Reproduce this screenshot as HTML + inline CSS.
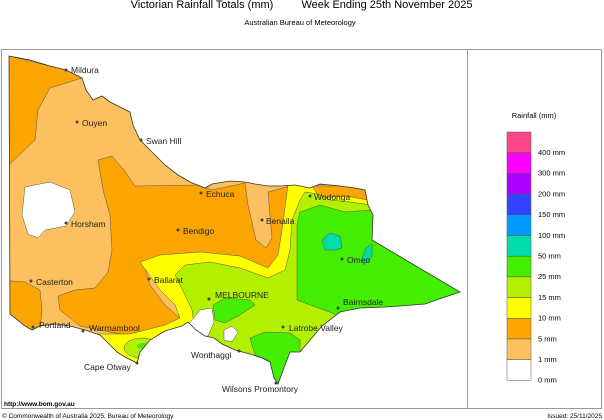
<!DOCTYPE html>
<html><head><meta charset="utf-8"><style>
body{margin:0;width:604px;height:420px;background:#fff;overflow:hidden;font-family:"Liberation Sans",sans-serif}
svg{display:block}
.lbl{font-size:8.5px;fill:#222}
</style></head><body>
<svg width="604" height="420">
<text x="202" y="8" text-anchor="middle" font-size="11">Victorian Rainfall Totals (mm)</text>
<text x="387" y="8" text-anchor="middle" font-size="11">Week Ending 25th November 2025</text>
<text x="300" y="25" text-anchor="middle" font-size="7.5">Australian Bureau of Meteorology</text>
<rect x="1.5" y="49.5" width="600" height="359" fill="none" stroke="#999"/>
<line x1="467.5" y1="49" x2="467.5" y2="409" stroke="#999"/>
<defs><clipPath id="vic"><path id="vicp" d="M9,56 L30,60 L50,66 L66,70 L82,78 L86,90 L93,100 L102,96 L110,102 L122,108 L130,112 L133,125 L140,140 L150,150 L165,165 L178,175 L190,182 L205,188 L212,184 L230,181 L245,182 L255,184 L268,186 L280,186 L295,185 L310,188 L320,184 L340,186 L355,188 L365,190 L368,205 L373,215 L372,240 L460,292 L445,297 L425,304 L400,306 L385,307 L360,308 L340,312 L322,326 L300,352 L290,352 L285,365 L278,384 L274,378 L270,362 L262,358 L250,354 L235,350 L222,344 L214,338 L205,336 L196,330 L188,322 L182,326 L175,328 L165,331 L150,340 L140,352 L137,363 L125,357 L117,352 L110,345 L100,335 L85,330 L70,326 L55,324 L40,326 L32,330 L25,326 L10,314 Z"/></clipPath></defs>
<g clip-path="url(#vic)">
<rect x="0" y="40" width="470" height="370" fill="#FDC05E"/>
<path d="M9,56 L66,70 L82,78 L50,88 L38,110 L35,140 L9,165 Z" fill="#FCA400" stroke="#555" stroke-width=".5"/>
<path d="M25,187 L50,182 L70,190 L75,212 L66,226 L45,230 L38,238 L28,234 L22,215 Z" fill="#fff" stroke="#555" stroke-width=".5"/>
<path d="M98,160 L112,156 L124,170 L135,186 L200,185 L212,190 L245,183 L248,205 L256,240 L266,248 L272,238 L268,192 L290,186 L300,190 L290,215 L285,255 L270,270 L235,262 L200,258 L160,262 L145,268 L150,285 L165,305 L180,318 L170,332 L130,336 L100,330 L80,326 L60,310 L58,296 L75,290 L95,288 L108,272 L112,250 L110,215 L103,190 Z" fill="#FCA400" stroke="#555" stroke-width=".5"/>
<path d="M0,280 L25,282 L40,290 L42,310 L40,330 L0,330 Z" fill="#FCA400" stroke="#555" stroke-width=".5"/>
<path d="M140,262 L160,255 L200,252 L240,256 L268,268 L278,255 L282,230 L286,200 L288,185 L380,185 L380,240 L470,292 L470,400 L95,400 L95,334 L130,334 L165,325 L180,318 L175,305 L160,290 Z" fill="#FFFF00" stroke="#555" stroke-width=".5"/>
<path d="M312,186 L365,186 L368,200 L345,196 L320,198 Z" fill="#FCA400" stroke="#555" stroke-width=".5"/>
<path d="M175,275 L185,265 L210,262 L240,268 L268,278 L285,270 L290,250 L292,220 L300,200 L305,192 L318,194 L330,200 L350,202 L372,205 L380,240 L470,292 L470,400 L180,400 L185,345 L195,330 L192,310 L185,295 Z" fill="#B2F000" stroke="#555" stroke-width=".5"/>
<ellipse cx="142" cy="348" rx="18" ry="10" fill="#B2F000" stroke="#555" stroke-width=".5"/>
<path d="M297,225 L300,212 L320,205 L345,212 L372,210 L380,240 L470,292 L420,308 L385,308 L340,316 L297,300 Z" fill="#44EE00" stroke="#555" stroke-width=".5"/>
<path d="M213,305 L225,298 L250,300 L255,305 L240,315 L225,323 L215,320 Z" fill="#44EE00" stroke="#555" stroke-width=".5"/>
<path d="M250,338 L265,332 L290,333 L300,340 L300,352 L290,356 L285,370 L278,385 L272,375 L268,360 L255,355 Z" fill="#44EE00" stroke="#555" stroke-width=".5"/>
<ellipse cx="144" cy="346" rx="7" ry="3" fill="#44EE00"/>
<path d="M322,240 L330,233 L340,236 L342,248 L335,250 L325,250 Z" fill="#00DDAA" stroke="#555" stroke-width=".5"/>
<path d="M362,258 L366,248 L372,244 L372,256 L364,265 Z" fill="#00DDAA" stroke="#555" stroke-width=".5"/>
<path d="M192,320 L200,310 L212,308 L214,322 L208,336 L198,336 L188,326 Z" fill="#fff" stroke="#555" stroke-width=".5"/>
<path d="M224,330 L232,326 L238,332 L232,342 L224,340 Z" fill="#fff" stroke="#555" stroke-width=".5"/>
</g>
<use href="#vicp" fill="none" stroke="#333" stroke-width=".8"/>
<g class="lbl">
<g fill="#444"><circle cx="66" cy="70" r="1.5"/><circle cx="77" cy="122" r="1.5"/><circle cx="141" cy="140" r="1.5"/><circle cx="201" cy="193" r="1.5"/><circle cx="66" cy="223" r="1.5"/><circle cx="178" cy="230" r="1.5"/><circle cx="262" cy="220" r="1.5"/><circle cx="310" cy="196" r="1.5"/><circle cx="342" cy="259" r="1.5"/><circle cx="149" cy="279" r="1.5"/><circle cx="209" cy="299" r="1.5"/><circle cx="338" cy="308" r="1.5"/><circle cx="283" cy="327" r="1.5"/><circle cx="31" cy="281" r="1.5"/><circle cx="33" cy="327" r="1.5"/><circle cx="83" cy="331" r="1.5"/><circle cx="239" cy="351" r="1.5"/><circle cx="137" cy="363" r="1.5"/><circle cx="276" cy="383" r="1.5"/></g>
<text x="71" y="73">Mildura</text><text x="82" y="126">Ouyen</text><text x="146" y="144">Swan Hill</text>
<text x="206" y="197">Echuca</text><text x="71" y="227">Horsham</text><text x="183" y="234">Bendigo</text>
<text x="266" y="224">Benalla</text><text x="314" y="200">Wodonga</text><text x="347" y="263">Omeo</text>
<text x="154" y="283">Ballarat</text><text x="215" y="298">MELBOURNE</text><text x="343" y="305">Bairnsdale</text>
<text x="289" y="331">Latrobe Valley</text><text x="36" y="285">Casterton</text><text x="39" y="328">Portland</text>
<text x="89" y="331">Warrnambool</text><text x="191" y="358">Wonthaggi</text><text x="84" y="370">Cape Otway</text>
<text x="222" y="392">Wilsons Promontory</text>
</g>
<text x="4" y="406" font-size="6.5" font-weight="bold">http://www.bom.gov.au</text>
<text x="2" y="418" font-size="6.5">© Commonwealth of Australia 2025, Bureau of Meteorology</text>
<text x="602" y="418" font-size="6.5" text-anchor="end">Issued: 25/11/2025</text>
<text x="534" y="118" font-size="7.5" text-anchor="middle">Rainfall (mm)</text>
<g id="legend"></g>
</svg>
<script>
const legendColors=["#FF4488","#FF00FF","#AA00FF","#3344FF","#0099FF","#00DDAA","#44EE00","#B2F000","#FFFF00","#FCA400","#FDC05E","#FFFFFF"];
const legendLabels=["400 mm","300 mm","200 mm","150 mm","100 mm","50 mm","25 mm","15 mm","10 mm","5 mm","1 mm","0 mm"];
const g=document.getElementById('legend');const NS="http://www.w3.org/2000/svg";
legendColors.forEach((c,i)=>{
 const r=document.createElementNS(NS,'rect');
 r.setAttribute('x',507);r.setAttribute('y',132+i*20.7);r.setAttribute('width',24);r.setAttribute('height',20.7);
 r.setAttribute('fill',c);r.setAttribute('stroke','#555');r.setAttribute('stroke-width','.5');
 
 
 g.appendChild(r);
 const t=document.createElementNS(NS,'text');
 t.setAttribute('x',538);t.setAttribute('y',155+i*20.7);t.setAttribute('font-size','7.5');
 t.textContent=legendLabels[i];
 
 
 g.appendChild(t);
});
</script>
</body></html>
